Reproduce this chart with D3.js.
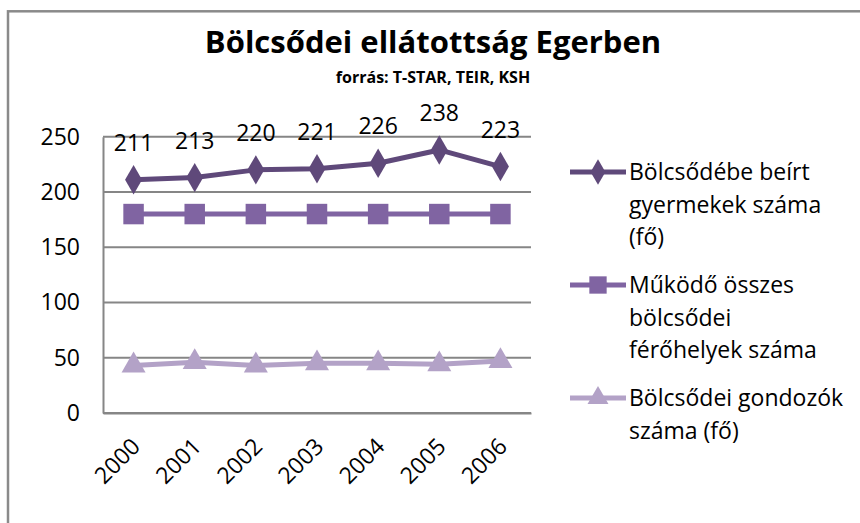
<!DOCTYPE html>
<html>
<head>
<meta charset="utf-8">
<script src="https://cdn.jsdelivr.net/npm/d3@7"></script>
<style>
	body { margin: 0; background: #fff; }
	text { font-family: "Open Sans", sans-serif; }
</style>
</head>
<body>
<div id="chart"></div>
<script>

// data
var years = ["2000", "2001", "2002", "2003", "2004", "2005", "2006"]
var beirt = [211, 213, 220, 221, 226, 238, 223]
var ferohely = [180, 180, 180, 180, 180, 180, 180]
var gondozo = [43, 46, 43, 45, 45, 44, 47]
var yTicks = [0, 50, 100, 150, 200, 250]
var seriesNames = [
	["Bölcsődébe beírt", "gyermekek száma", "(fő)"],
	["Működő összes", "bölcsődei", "férőhelyek száma"],
	["Bölcsődei gondozók", "száma (fő)"]
]
var colors = ["#5f497a", "#8064a2", "#b3a2c7"]
var symbols = [d3.symbolDiamond, d3.symbolSquare, d3.symbolTriangle]

var width = 860
	height = 523

var svg = d3.select("#chart")
	.append("svg")
	.attr("width", width)
	.attr("height", height)

// outer frame (runs off the right and bottom edges)
svg.append("rect")
	.attr("x", 8)
	.attr("y", 11.3)
	.attr("width", 900)
	.attr("height", 600)
	.attr("fill", "none")
	.attr("stroke", "#8a8a8a")
	.attr("stroke-width", 2.5)

svg.append("text")
	.text("Bölcsődei ellátottság Egerben")
	.attr("x", 433)
	.attr("y", 53)
	.attr("text-anchor", "middle")
	.attr("font-size", 31)
	.attr("font-weight", "bold")

svg.append("text")
	.text("forrás: T-STAR, TEIR, KSH")
	.attr("x", 433)
	.attr("y", 83)
	.attr("text-anchor", "middle")
	.attr("font-size", 16)
	.attr("font-weight", "bold")

// scales
var x = d3.scaleBand()
	.domain(years)
	.range([103, 531])

var y = d3.scaleLinear()
	.domain([0, 250])
	.range([413, 136.7])

// gridlines
svg.append("g")
	.selectAll("line")
	.data(yTicks)
	.enter()
	.append("line")
	.attr("x1", 103)
	.attr("x2", 531)
	.attr("y1", function(d){ return y(d) })
	.attr("y2", function(d){ return y(d) })
	.attr("stroke", "#868686")
	.attr("stroke-width", 2)

// y axis
var yAxis = svg.append("g")
	.attr("transform", "translate(103,0)")
	.call(d3.axisLeft(y).tickValues(yTicks).tickSize(0).tickPadding(23))
yAxis.select(".domain").attr("stroke", "#868686").attr("stroke-width", 2)
yAxis.selectAll("text")
	.attr("font-size", 23)
	.attr("font-family", "Open Sans")
	.attr("fill", "#000")

// x axis, rotated labels
var xAxis = svg.append("g")
	.attr("transform", "translate(0,413)")
	.call(d3.axisBottom(x).tickSize(0).tickPadding(0))
xAxis.select(".domain").attr("stroke", "#868686").attr("stroke-width", 2)
xAxis.selectAll("text")
	.attr("font-size", 23)
	.attr("font-family", "Open Sans")
	.attr("fill", "#000")
	.attr("text-anchor", "end")
	.attr("dy", 0)
	.attr("transform", "translate(8,35) rotate(-45)")

// lines and markers
var allSeries = [beirt, ferohely, gondozo]
var line = d3.line()
	.x(function(d, i){ return x(years[i]) + x.bandwidth() / 2 })
	.y(function(d){ return y(d) })

allSeries.forEach(function(values, s) {
	svg.append("path")
		.datum(values)
		.attr("d", line)
		.attr("fill", "none")
		.attr("stroke", colors[s])
		.attr("stroke-width", 5)
		.attr("stroke-linejoin", "round")

	svg.append("g")
		.selectAll("path")
		.data(values)
		.enter()
		.append("path")
		.attr("d", d3.symbol().type(symbols[s]).size(s == 1 ? 420 : 250))
		.attr("transform", function(d, i){
			return "translate(" + (x(years[i]) + x.bandwidth() / 2) + "," + y(d) + ")"
		})
		.attr("fill", colors[s])
})

// data labels for the first series
svg.append("g")
	.selectAll("text")
	.data(beirt)
	.enter()
	.append("text")
	.text(function(d){ return d })
	.attr("x", function(d, i){ return x(years[i]) + x.bandwidth() / 2 })
	.attr("y", function(d){ return y(d) - 29 })
	.attr("text-anchor", "middle")
	.attr("font-size", 23)

// legend
var legendY = [172, 285, 398]
seriesNames.forEach(function(lines, s) {
	var g = svg.append("g")
		.attr("transform", "translate(0," + legendY[s] + ")")
	g.append("line")
		.attr("x1", 570)
		.attr("x2", 626)
		.attr("stroke", colors[s])
		.attr("stroke-width", 5)
	g.append("path")
		.attr("d", d3.symbol().type(symbols[s]).size(s == 1 ? 300 : 190))
		.attr("transform", "translate(598,0)")
		.attr("fill", colors[s])
	g.selectAll("text")
		.data(lines)
		.enter()
		.append("text")
		.text(function(d){ return d })
		.attr("x", 629)
		.attr("y", function(d, i){ return i * 32.5 + 8 })
		.attr("font-size", 23)
})

</script>
</body>
</html>
